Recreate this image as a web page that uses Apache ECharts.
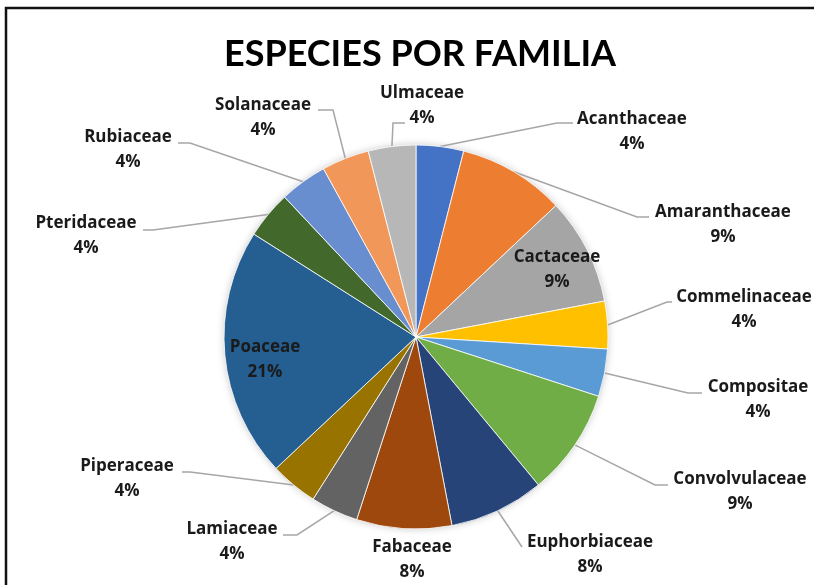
<!DOCTYPE html>
<html>
<head>
<meta charset="utf-8">
<title>Especies por familia</title>
<script src="https://cdn.jsdelivr.net/npm/echarts@6/dist/echarts.min.js"></script>
<style>
  html, body { margin: 0; padding: 0; background: #fff; }
  #chart { width: 814px; height: 585px; }
</style>
</head>
<body>
<div id="chart"></div>
<script>
// Families and their share of species (percent)
const families = [
  'Acanthaceae', 'Amaranthaceae', 'Cactaceae', 'Commelinaceae', 'Compositae',
  'Convolvulaceae', 'Euphorbiaceae', 'Fabaceae', 'Lamiaceae', 'Piperaceae',
  'Poaceae', 'Pteridaceae', 'Rubiaceae', 'Solanaceae', 'Ulmaceae'
];
const shares = [4, 9, 9, 4, 4, 9, 8, 8, 4, 4, 21, 4, 4, 4, 4];

// Office-style slice colours, in series order
const palette = [
  '#4472C4', '#ED7D31', '#A5A5A5', '#FFC000', '#5B9BD5',
  '#70AD47', '#264478', '#9E480E', '#636363', '#997300',
  '#255E91', '#43682B', '#698ED0', '#F1975A', '#B7B7B7'
];

// Labels placed on the slice itself
const insideLabels = ['Cactaceae', 'Poaceae'];

// Label placement: centre of the text block, leader elbow (ex, ey) and leader end x
const labelSpots = {
  Acanthaceae:    { x: 632, y: 132, ex: 557, ey: 123, tx: 573 },
  Amaranthaceae:  { x: 723, y: 225, ex: 637, ey: 217, tx: 649 },
  Cactaceae:      { x: 557, y: 270 },
  Commelinaceae:  { x: 744, y: 310, ex: 667, ey: 302, tx: 672 },
  Compositae:     { x: 758, y: 400, ex: 688, ey: 393, tx: 702 },
  Convolvulaceae: { x: 740, y: 492, ex: 655, ey: 485, tx: 668 },
  Euphorbiaceae:  { x: 590, y: 555, ex: 522, ey: 547, tx: 522 },
  Fabaceae:       { x: 412, y: 560, noLine: true },
  Lamiaceae:      { x: 232, y: 542, ex: 297, ey: 535, tx: 283 },
  Piperaceae:     { x: 127, y: 479, ex: 190, ey: 472, tx: 182 },
  Poaceae:        { x: 265, y: 360 },
  Pteridaceae:    { x: 86,  y: 236, ex: 153, ey: 230, tx: 143 },
  Rubiaceae:      { x: 128, y: 150, ex: 190, ey: 143, tx: 178 },
  Solanaceae:     { x: 263, y: 118, ex: 333, ey: 110, tx: 318 },
  Ulmaceae:       { x: 422, y: 106, ex: 393, ey: 123, tx: 405 }
};

const TITLE_FONT = 'Lato, "Open Sans", sans-serif';
const LABEL_FONT = '"Open Sans", Lato, sans-serif';
const LABEL_COLOR = '#1a1a1a';

const pieData = families.map((name, i) => {
  const inside = insideLabels.includes(name);
  const spot = labelSpots[name];
  return {
    name,
    value: shares[i],
    itemStyle: { color: palette[i] },
    label: inside ? { position: 'inside' } : undefined,
    labelLine: { show: !(inside || (spot && spot.noLine)) }
  };
});

const chart = echarts.init(document.getElementById('chart'), null, { renderer: 'canvas' });

chart.setOption({
  animation: false,
  backgroundColor: '#ffffff',
  title: {
    text: 'ESPECIES POR FAMILIA',
    left: 415,
    textAlign: 'center',
    top: 31,
    textStyle: {
      fontFamily: TITLE_FONT,
      fontWeight: 'bold',
      fontSize: 36,
      color: '#000000'
    }
  },
  graphic: [
    {
      type: 'circle',
      z: -1,
      silent: true,
      shape: { cx: 416, cy: 337, r: 191 },
      style: { fill: '#ffffff', shadowBlur: 8, shadowColor: 'rgba(0,0,0,0.28)' }
    },
    {
      type: 'polyline',
      z: 100,
      silent: true,
      shape: { points: [[6, 585], [6, 8], [814, 8]] },
      style: { stroke: '#111111', lineWidth: 2.5, fill: null }
    }
  ],
  series: [{
    type: 'pie',
    center: [416, 337],
    radius: 192,
    startAngle: 90,
    clockwise: true,
    avoidLabelOverlap: false,
    silent: true,
    data: pieData,
    itemStyle: {
      borderColor: '#ffffff',
      borderWidth: 0.8
    },
    label: {
      show: true,
      position: 'outside',
      formatter: '{b}\n{c}%',
      fontFamily: LABEL_FONT,
      fontWeight: 'bold',
      fontSize: 17,
      lineHeight: 25,
      color: LABEL_COLOR,
      align: 'center'
    },
    labelLine: {
      show: true,
      length: 20,
      length2: 10,
      smooth: false,
      lineStyle: { color: '#A6A6A6', width: 1.5 }
    },
    labelLayout: function (params) {
      const name = families[params.dataIndex];
      const spot = labelSpots[name];
      const out = { x: spot.x, y: spot.y, align: 'center', verticalAlign: 'middle' };
      if (spot.ex != null && params.labelLinePoints) {
        const start = params.labelLinePoints[0];
        out.labelLinePoints = [
          [start[0], start[1]],
          [spot.ex, spot.ey],
          [spot.tx, spot.ey]
        ];
      }
      return out;
    }
  }]
});
</script>
</body>
</html>
